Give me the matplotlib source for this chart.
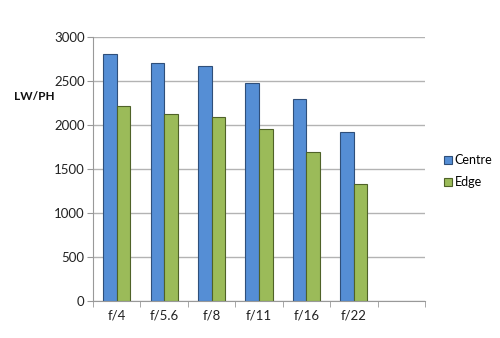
import matplotlib
matplotlib.use("Agg")
import matplotlib.pyplot as plt
import numpy as np
from matplotlib.patches import Patch

categories = ["f/4", "f/5.6", "f/8", "f/11", "f/16", "f/22"]
centre = [2815, 2708, 2670, 2474, 2295, 1924]
edge = [2216, 2122, 2091, 1951, 1693, 1326]
yticks = [0, 500, 1000, 1500, 2000, 2500, 3000]

plt.rcParams['font.family'] = ['Lato', 'DejaVu Sans']

fig = plt.figure(figsize=(5, 3.38), dpi=100)
ax = fig.add_axes([93/500, 1-300.7/338, (425-93)/500, (300.7-37.3)/338])

n_slots = 7
x = np.arange(len(categories))
w = 1/3.5
blue = "#558ED5"
green = "#9BBB59"
ax.bar(x - w/2, centre, w, color=blue, edgecolor="#2F4F7A", linewidth=0.8, zorder=3, label="Centre")
ax.bar(x + w/2, edge, w, color=green, edgecolor="#4F6228", linewidth=0.8, zorder=3, label="Edge")

ax.set_xlim(-0.5, n_slots - 0.5)
ax.set_ylim(0, 3000)
ax.set_yticks(yticks)
ax.set_xticks(x)
ax.set_xticklabels(categories)
ax.set_xticks(np.arange(n_slots + 1) - 0.5, minor=True)
ax.tick_params(axis='x', which='major', length=0, labelsize=9.5, pad=6, colors="#222222")
ax.tick_params(axis='x', which='minor', length=4, color="#999999")
ax.tick_params(axis='y', length=4, color="#999999", labelsize=9.5, labelcolor="#222222", pad=2)
ax.grid(axis='y', color="#b3b3b3", linewidth=1, zorder=0)
for s in ["top", "right"]:
    ax.spines[s].set_visible(False)
for s in ["left", "bottom"]:
    ax.spines[s].set_color("#999999")
    ax.spines[s].set_zorder(4)

fig.text(34/500, 1-96/338, "LW/PH", fontsize=8.5, fontweight="bold", ha="center", va="center", color="#111111")

handles = [Patch(facecolor=blue, edgecolor="#2F4F7A", linewidth=0.8),
           Patch(facecolor=green, edgecolor="#4F6228", linewidth=0.8)]
fig.legend(handles, ["Centre", "Edge"], loc="center left", bbox_to_anchor=(444/500, 1-171/338),
           frameon=False, fontsize=9, handlelength=0.6, handleheight=0.6, handletextpad=0.25,
           labelspacing=0.8, borderpad=0, borderaxespad=0)

fig.savefig("out.png", dpi=100)
